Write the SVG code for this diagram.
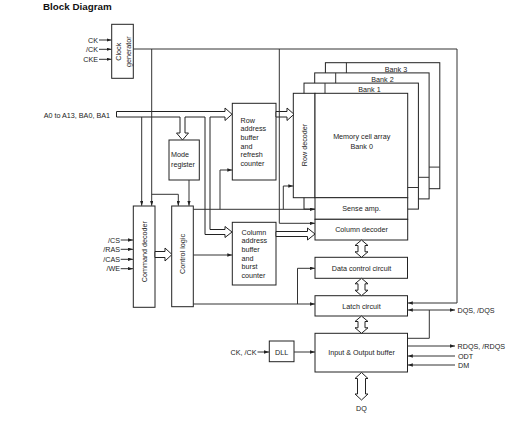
<svg xmlns="http://www.w3.org/2000/svg" width="508" height="438" viewBox="0 0 508 438">
<defs>
<marker id="ah" viewBox="0 0 6 4" refX="6" refY="2" markerWidth="5" markerHeight="3.4" orient="auto-start-reverse" markerUnits="userSpaceOnUse"><path d="M0,0L6,2L0,4z" fill="#222"/></marker>
<style>
.b{fill:#fff;stroke:#222;stroke-width:1}
.c{fill:none;stroke:#333;stroke-width:1}
.a{marker-end:url(#ah)}
.d{marker-start:url(#ah);marker-end:url(#ah)}
.h{fill:#fff;stroke:#222;stroke-width:1}
text{font-family:"Liberation Sans",Arial,sans-serif;font-size:7.2px;fill:#222}
.m{text-anchor:middle}
.e{text-anchor:end}
.t{font-size:9.8px;font-weight:bold;fill:#111}
</style>
</defs>
<rect width="508" height="438" fill="#fff"/>
<text class="t" x="43" y="9.5">Block Diagram</text>

<g id="labels">
<text class="e" x="98" y="42.5">CK</text>
<text class="e" x="98" y="51.8">/CK</text>
<text class="e" x="98" y="61.8">CKE</text>
<text class="e" x="110" y="117.5">A0 to A13, BA0, BA1</text>
<text class="e" x="120" y="242.5">/CS</text>
<text class="e" x="120" y="251.8">/RAS</text>
<text class="e" x="120" y="261.8">/CAS</text>
<text class="e" x="120" y="271.2">/WE</text>
<text class="e" x="256.5" y="354.5">CK, /CK</text>
<text x="457.5" y="312.5">DQS, /DQS</text>
<text x="457.5" y="348.5">RDQS, /RDQS</text>
<text x="458" y="358.5">ODT</text>
<text x="458" y="367.5">DM</text>
<text class="m" x="361.5" y="410.8">DQ</text>
</g>

<g id="clock-generator">
<rect class="b" x="111.7" y="24.3" width="21.6" height="54"/>
<text class="m" transform="translate(120.8,51.7) rotate(-90)">Clock</text>
<text class="m" transform="translate(130.8,51.7) rotate(-90)">generator</text>
</g>

<g id="mode-register">
<rect class="b" x="169" y="140" width="30.3" height="40"/>
<text x="171" y="156.8">Mode</text>
<text x="171" y="166.8">register</text>
</g>

<g id="command-decoder">
<rect class="b" x="133.3" y="206" width="21.7" height="101.3"/>
<text class="m" transform="translate(146.5,251.7) rotate(-90)">Command decoder</text>
</g>

<g id="control-logic">
<rect class="b" x="171.7" y="206" width="21.6" height="100.7"/>
<text class="m" transform="translate(185,254) rotate(-90)">Control logic</text>
</g>

<g id="row-address-buffer">
<rect class="b" x="232.3" y="103.3" width="43.7" height="76.7"/>
<text x="240.5" y="122.5">Row</text>
<text x="240.5" y="131.2">address</text>
<text x="240.5" y="139.9">buffer</text>
<text x="240.5" y="148.6">and</text>
<text x="240.5" y="157.3">refresh</text>
<text x="240.5" y="166">counter</text>
</g>

<g id="column-address-buffer">
<rect class="b" x="232.3" y="222.3" width="43.7" height="62.7"/>
<text x="241.5" y="234.8">Column</text>
<text x="241.5" y="243.3">address</text>
<text x="241.5" y="251.9">buffer</text>
<text x="241.5" y="260.5">and</text>
<text x="241.5" y="269.1">burst</text>
<text x="241.5" y="277.7">counter</text>
</g>

<g id="bank3">
<rect class="b" x="325.4" y="62.7" width="114.4" height="126"/>
<line class="c" x1="346.4" y1="62.7" x2="346.4" y2="167.1"/>
<line class="c" x1="325.4" y1="167.1" x2="439.8" y2="167.1"/>
<text class="m" x="396" y="71.8">Bank 3</text>
</g>
<g id="bank2">
<rect class="b" x="314.7" y="72.9" width="114.4" height="126"/>
<line class="c" x1="335.7" y1="72.9" x2="335.7" y2="177.3"/>
<line class="c" x1="314.7" y1="177.3" x2="429.1" y2="177.3"/>
<text class="m" x="382.5" y="81.8">Bank 2</text>
</g>
<g id="bank1">
<rect class="b" x="304" y="83.1" width="114.4" height="126"/>
<line class="c" x1="325" y1="83.1" x2="325" y2="187.5"/>
<line class="c" x1="304" y1="187.5" x2="418.4" y2="187.5"/>
<text class="m" x="369.5" y="91.8">Bank 1</text>
</g>
<g id="row-decoder">
<rect class="b" x="293.3" y="93.3" width="21.7" height="104.4"/>
<text class="m" transform="translate(306.7,145) rotate(-90)">Row decoder</text>
</g>
<g id="memory-cell-array">
<rect class="b" x="315" y="93.3" width="92.7" height="104.4"/>
<text class="m" x="361.7" y="139.2">Memory cell array</text>
<text class="m" x="361.7" y="148.5">Bank 0</text>
</g>
<g id="sense-amp">
<rect class="b" x="315" y="197.7" width="92.7" height="21.6"/>
<text class="m" x="361.5" y="211">Sense amp.</text>
</g>
<g id="column-decoder">
<rect class="b" x="315" y="219.3" width="92.7" height="20.7"/>
<text class="m" x="361.5" y="232.2">Column decoder</text>
</g>
<g id="data-control">
<rect class="b" x="315" y="257.3" width="92.5" height="21"/>
<text class="m" x="361.5" y="270.5">Data control circuit</text>
</g>
<g id="latch-circuit">
<rect class="b" x="315" y="295.7" width="92.5" height="20.3"/>
<text class="m" x="361.5" y="308.5">Latch circuit</text>
</g>
<g id="io-buffer">
<rect class="b" x="315" y="333.3" width="92.5" height="38.7"/>
<text class="m" x="361.5" y="355.2">Input &amp; Output buffer</text>
</g>
<g id="dll">
<rect class="b" x="269.3" y="341" width="24.7" height="20.7"/>
<text class="m" x="281.7" y="354.5">DLL</text>
</g>

<g id="connectors">
<!-- hollow buses -->
<path class="h" d="M116.5,111.5H225V108L232,114.25L225,120.5V117H210V229.5H225V226.5L232,232L225,237.5V234.5H205V117H185V133H188.5L182.5,140L176.5,133H180V117H116.5Z"/>
<path class="h" d="M276,111.5H287V108L294,114.25L287,120.5V117H276Z"/>
<path class="h" d="M276,231.5H307.5V228L315,234L307.5,240V236.5H276Z"/>
<path class="h" d="M155,251.5H165V248L172,254.5L165,261V257.5H155Z"/>
<path class="h" d="M361.5,240L368,245.5H365V251.8H368L361.5,257.3L355,251.8H358V245.5H355Z"/>
<path class="h" d="M361.5,278.3L368,283.8H365V290.2H368L361.5,295.7L355,290.2H358V283.8H355Z"/>
<path class="h" d="M361.5,316L368,321.5H365V327.8H368L361.5,333.3L355,327.8H358V321.5H355Z"/>
<path class="h" d="M361.5,372.5L368,378.5H365.5V394H368L361.5,400L355,394H357.5V378.5H355Z"/>
<!-- input arrows -->
<line class="c a" x1="99" y1="40" x2="111.5" y2="40"/>
<line class="c a" x1="99" y1="49.3" x2="111.5" y2="49.3"/>
<line class="c a" x1="99" y1="59.3" x2="111.5" y2="59.3"/>
<line class="c a" x1="120.7" y1="240" x2="133" y2="240"/>
<line class="c a" x1="120.7" y1="249.3" x2="133" y2="249.3"/>
<line class="c a" x1="120.7" y1="259.3" x2="133" y2="259.3"/>
<line class="c a" x1="120.7" y1="268.7" x2="133" y2="268.7"/>
<line class="c a" x1="257.5" y1="352" x2="269" y2="352"/>
<line class="c a" x1="294" y1="352" x2="315" y2="352"/>
<!-- clock distribution -->
<polyline class="c a" points="133.3,49 457,49 457,303 407.8,303"/>
<line class="c a" x1="151.7" y1="49" x2="151.7" y2="205.8"/>
<polyline class="c a" points="151.7,194.3 178.3,194.3 178.3,205.8"/>
<polyline class="c a" points="279.3,49 279.3,223.3 315,223.3"/>
<!-- address / command -->
<line class="c a" x1="141.7" y1="117" x2="141.7" y2="205.8"/>
<line class="c a" x1="189" y1="180" x2="189" y2="205.8"/>
<!-- control logic outputs -->
<line class="c a" x1="193.3" y1="209.3" x2="315" y2="209.3"/>
<polyline class="c a" points="220,209.3 220,170 232.3,170"/>
<polyline class="c a" points="283.3,209.3 283.3,186 293.3,186"/>
<line class="c a" x1="193.3" y1="255" x2="232.3" y2="255"/>
<line class="c a" x1="193.3" y1="304" x2="315" y2="304"/>
<polyline class="c a" points="297.5,304 297.5,268.3 315,268.3"/>
<!-- right side I/O -->
<line class="c d" x1="407.8" y1="310" x2="455" y2="310"/>
<polyline class="c" points="429.3,310 429.3,338.3 407.5,338.3"/>
<line class="c a" x1="407.5" y1="346" x2="455" y2="346"/>
<line class="c a" x1="455" y1="356" x2="407.8" y2="356"/>
<line class="c a" x1="455" y1="365" x2="407.8" y2="365"/>
</g>
</svg>
